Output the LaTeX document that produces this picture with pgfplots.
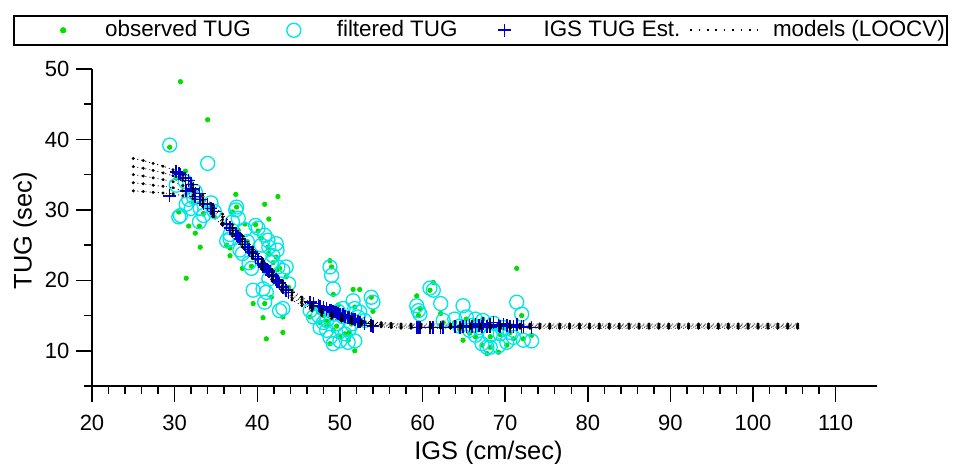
\documentclass[border=0pt]{standalone}
\usepackage{fontspec}
\setmainfont{Liberation Sans}
\usepackage{pgfplots}
\pgfplotsset{compat=1.18}
\usepackage{pgfplotstable}

\definecolor{obsgreen}{RGB}{0,224,0}
\definecolor{filtcyan}{RGB}{0,230,230}
\definecolor{estblue}{RGB}{0,0,205}

\pgfplotsset{
  markimgfirst/.style={legend image code/.code={\path[draw=none,fill=none] (-10pt,0pt) rectangle (29pt,0pt); \draw[##1] plot coordinates {(14.5pt,0pt)};}},
  markimg/.style={legend image code/.code={\path[draw=none,fill=none] (0pt,0pt) rectangle (29pt,0pt); \draw[##1] plot coordinates {(14.5pt,0pt)};}},
  lineimg/.style={legend image code/.code={\draw[black, line width=0.8pt, dash pattern=on 0.8pt off 3.4pt] (0pt,0pt) -- (34pt,0pt);}},
  modelstyle/.style={black, line width=0.45pt, dash pattern=on 0.45pt off 1.6pt, mark=*, mark size=0.5pt, mark options={solid}},
}

\pgfplotstableread{
x obs filt est
29.4 38.9 39.2 32.0
30.2 34.5 33.5 35.4
30.5 29.7 29.0 35.2
30.7 48.2 29.2 35.0
31.3 35.5 34.0 34.5
31.4 20.3 30.8 32.7
31.7 27.7 31.5 34.2
32.0 33.5 30.2 33.6
32.3 31.0 31.8 33.0
32.5 26.7 32.6 31.9
33.0 27.7 28.3 32.3
33.1 24.7 30.2 31.5
33.5 29.5 29.2 30.9
34.0 42.8 36.6 30.8
34.4 30.5 31.0 30.2
34.8 29.0 29.8 29.8
36.3 25.0 25.6 28.0
36.7 24.6 25.9 27.5
36.7 23.5 26.5 27.4
37.0 29.7 28.3 27.1
37.4 32.2 30.0 26.6
37.5 30.4 30.4 26.5
37.7 27.1 28.8 26.2
37.9 26.0 24.3 25.9
38.2 21.7 23.8 25.5
38.5 28.0 27.2 25.1
38.8 25.5 25.5 24.7
39.0 24.0 22.5 24.4
39.3 22.0 21.7 24.0
39.5 16.7 18.6 23.8
39.8 27.9 27.8 23.4
40.1 27.0 27.4 23.0
40.5 26.0 25.0 22.4
40.7 14.7 18.8 22.2
40.9 30.8 26.4 21.9
40.9 16.7 16.9 22.0
41.1 11.7 18.3 21.6
41.3 24.7 25.7 21.4
41.4 28.7 24.7 21.2
41.4 23.8 20.2 21.3
41.7 17.6 22.5 20.8
41.9 22.5 23.5 20.6
42.3 23.3 25.2 20.1
42.4 21.5 24.3 20.0
42.5 31.9 21.9 19.9
42.7 21.7 15.7 19.6
43.1 12.6 16.0 19.1
43.1 14.8 21.4 19.0
43.5 20.5 21.9 18.6
43.8 19.0 19.5 18.3
46.4 14.8 15.7 16.9
46.8 16.0 14.8 16.7
47.4 15.5 15.0 16.4
47.6 14.0 13.3 16.3
48.0 15.0 14.0 16.2
48.4 13.5 12.9 16.0
48.4 14.2 14.3 15.9
48.8 22.8 21.9 15.8
48.8 11.0 11.9 15.7
49.0 21.9 20.7 15.7
49.2 12.9 11.0 15.6
49.2 18.0 18.8 15.5
49.4 15.0 15.2 15.5
49.6 13.5 13.8 15.4
49.8 16.5 15.6 15.3
50.0 12.0 11.4 15.2
50.4 15.5 16.0 15.0
50.4 14.5 14.8 15.1
50.6 12.4 12.4 14.9
51.0 11.5 11.2 14.7
51.1 12.6 13.0 14.7
51.4 13.8 13.8 14.6
51.6 18.7 17.1 14.5
51.8 10.0 11.4 14.4
51.8 16.2 16.0 14.4
52.2 14.5 14.8 14.2
52.4 18.7 15.5 14.1
53.0 14.0 14.3 13.9
53.8 17.6 17.6 13.6
54.0 15.6 16.9 13.5
59.3 17.8 16.4 13.3
59.5 15.0 15.7 13.3
59.7 16.0 15.2 13.3
60.9 18.6 18.9 13.3
61.3 19.7 18.6 13.3
62.2 15.3 16.7 13.3
62.5 14.0 14.3 13.3
63.9 14.0 14.5 13.4
64.5 13.0 13.5 13.3
64.9 11.5 16.4 13.5
65.3 14.5 14.8 13.4
65.7 12.5 12.9 13.6
66.0 13.8 13.6 13.5
66.4 14.3 14.5 13.8
66.4 12.0 12.2 13.4
66.8 13.0 13.3 13.6
67.2 10.8 11.0 13.5
67.3 14.5 14.3 13.9
67.8 9.6 10.5 13.5
68.2 12.0 12.2 13.7
68.2 10.5 10.5 13.4
68.6 13.5 13.9 14.0
69.2 9.8 10.7 13.6
69.4 12.3 12.4 13.5
69.8 13.2 13.3 13.8
70.2 10.8 11.2 13.6
70.6 12.6 12.6 13.5
71.0 11.7 11.9 13.4
71.4 21.7 16.9 13.7
72.0 15.0 15.2 13.4
72.2 11.7 11.5 13.4
73.2 12.2 11.4 13.3
}\subj

\pgfplotstableread{
x m1 m2 m3 m4 m5
25.0 37.3 36.15 35.0 33.85 32.7
26.2 37.0 35.9 34.8 33.7 32.6
27.4 36.6 35.6 34.55 33.5 32.5
28.6 36.2 35.25 34.3 33.35 32.4
29.8 35.7 34.85 34.0 33.15 32.3
31.0 34.9 34.2 33.45 32.7 32.0
32.2 33.6 33.1 32.6 32.1 31.6
33.4 32.1 31.7 31.3 30.9 30.5
34.6 30.7 30.3 29.9 29.5 29.1
35.8 29.4 29.0 28.6 28.2 27.8
37.0 27.9 27.5 27.1 26.7 26.3
38.2 26.3 25.9 25.5 25.1 24.7
39.4 24.7 24.3 23.9 23.5 23.1
40.6 23.1 22.7 22.3 21.9 21.5
41.8 21.5 21.1 20.7 20.3 19.9
43.0 20.0 19.6 19.2 18.8 18.4
44.2 18.6 18.25 17.9 17.55 17.2
45.4 17.6 17.3 17.0 16.7 16.4
46.6 16.7 16.45 16.2 15.95 15.7
47.8 16.0 15.75 15.5 15.25 15.0
49.0 15.45 15.2 15.0 14.8 14.55
50.2 15.0 14.8 14.6 14.4 14.2
51.4 14.7 14.5 14.3 14.1 13.9
52.6 14.35 14.2 14.0 13.8 13.65
53.8 14.1 13.95 13.8 13.65 13.5
55.0 14.0 13.85 13.7 13.55 13.4
56.2 13.9 13.75 13.6 13.45 13.3
57.4 13.8 13.65 13.5 13.35 13.2
58.6 13.8 13.65 13.5 13.35 13.2
59.8 13.8 13.65 13.5 13.35 13.2
61.0 13.8 13.65 13.5 13.35 13.2
62.2 13.8 13.65 13.5 13.35 13.2
63.4 13.8 13.65 13.5 13.35 13.2
64.6 13.8 13.65 13.5 13.35 13.2
65.8 13.8 13.65 13.5 13.35 13.2
67.0 13.8 13.65 13.5 13.35 13.2
68.2 13.8 13.65 13.5 13.35 13.2
69.4 13.8 13.65 13.5 13.35 13.2
70.6 13.8 13.65 13.5 13.35 13.2
71.8 13.8 13.65 13.5 13.35 13.2
73.0 13.8 13.65 13.5 13.35 13.2
74.2 13.8 13.65 13.5 13.35 13.2
75.4 13.8 13.65 13.5 13.35 13.2
76.6 13.8 13.65 13.5 13.35 13.2
77.8 13.8 13.65 13.5 13.35 13.2
79.0 13.8 13.65 13.5 13.35 13.2
80.2 13.8 13.65 13.5 13.35 13.2
81.4 13.8 13.65 13.5 13.35 13.2
82.6 13.8 13.65 13.5 13.35 13.2
83.8 13.8 13.65 13.5 13.35 13.2
85.0 13.8 13.65 13.5 13.35 13.2
86.2 13.8 13.65 13.5 13.35 13.2
87.4 13.8 13.65 13.5 13.35 13.2
88.6 13.8 13.65 13.5 13.35 13.2
89.8 13.8 13.65 13.5 13.35 13.2
91.0 13.8 13.65 13.5 13.35 13.2
92.2 13.8 13.65 13.5 13.35 13.2
93.4 13.8 13.65 13.5 13.35 13.2
94.6 13.8 13.65 13.5 13.35 13.2
95.8 13.8 13.65 13.5 13.35 13.2
97.0 13.8 13.65 13.5 13.35 13.2
98.2 13.8 13.65 13.5 13.35 13.2
99.4 13.8 13.65 13.5 13.35 13.2
100.6 13.8 13.65 13.5 13.35 13.2
101.8 13.8 13.65 13.5 13.35 13.2
103.0 13.8 13.65 13.5 13.35 13.2
104.2 13.8 13.65 13.5 13.35 13.2
105.4 13.8 13.65 13.5 13.35 13.2
}\models

\begin{document}
\begin{tikzpicture}
\path[use as bounding box] (-46pt,-38.5pt) rectangle (431pt,193pt);
\begin{axis}[
  at={(0,0)}, anchor=south west,
  scale only axis, width=392.5pt, height=158.5pt,
  xmin=20, xmax=115, ymin=5, ymax=50,
  axis x line*=bottom, axis y line*=left,
  axis line style={-, line width=0.75pt, black},
  x axis line style={shorten <=-4pt},
  tick align=outside, major tick length=7.8pt, minor tick length=3.8pt,
  every tick/.style={line width=0.75pt, black},
  xtick={20,30,...,110}, ytick={10,20,...,50},
  minor x tick num=4, minor y tick num=1,
  ticklabel style={font=\fontsize{11}{13}\selectfont},
  /pgf/number format/assume math mode=true,
  x tick label style={yshift=-3pt},
  xlabel={IGS (cm/sec)}, ylabel={TUG (sec)},
  label style={font=\fontsize{12.7}{15}\selectfont},
  xlabel style={at={(axis description cs:0.505,0)}, anchor=base, yshift=-36.5pt},
  ylabel style={at={([xshift=-33.5pt]axis description cs:0,0.49)}, anchor=center},
  legend columns=4,
  legend style={at={(axis description cs:0.5,1)}, anchor=south, yshift=11.6pt, xshift=-2pt,
    draw=black, line width=0.9pt, fill=white,
    font=\fontsize{11.2}{13}\selectfont,
    inner xsep=0pt, inner ysep=1.5pt, nodes={inner sep=1pt},
    /tikz/column 1/.style={column sep=5.5pt},
    /tikz/column 2/.style={column sep=6pt},
    /tikz/column 3/.style={column sep=6pt},
    /tikz/column 4/.style={column sep=8pt},
    /tikz/column 5/.style={column sep=4pt},
    /tikz/column 6/.style={column sep=3.5pt},
    /tikz/column 7/.style={column sep=6pt}},
  legend cell align=left,
]
\addplot[only marks, mark=*, mark size=1.1pt, color=obsgreen, markimgfirst]
  table[x=x, y=obs] {\subj};
\addlegendentry{observed TUG}
\addplot[only marks, mark=o, mark size=3.5pt, color=filtcyan, line width=0.65pt, markimg]
  table[x=x, y=filt] {\subj};
\addlegendentry{filtered TUG}
\addplot[only marks, mark=+, mark size=3.2pt, color=estblue, line width=0.8pt, markimg]
  table[x=x, y=est] {\subj};
\addlegendentry{IGS TUG Est.}
\addplot[modelstyle, lineimg] table[x=x, y=m1] {\models};
\addlegendentry{models (LOOCV)}
\addplot[forget plot, modelstyle] table[x=x, y=m2] {\models};
\addplot[forget plot, modelstyle] table[x=x, y=m3] {\models};
\addplot[forget plot, modelstyle] table[x=x, y=m4] {\models};
\addplot[forget plot, modelstyle] table[x=x, y=m5] {\models};
\end{axis}
\end{tikzpicture}
\end{document}
